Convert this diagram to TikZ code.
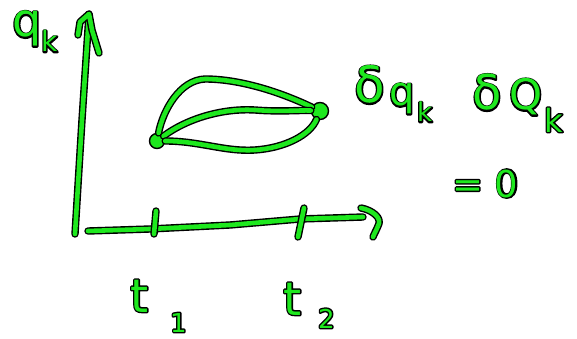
\documentclass[tikz,border=0pt]{standalone}
\usepackage{fontspec}
\setmainfont{DejaVu Sans}
\definecolor{pen}{RGB}{30,232,30}
\newcommand\hw[1]{\rlap{\special{pdf:literal 1 Tr 0 G 2.8 w 1 j}#1\special{pdf:literal 0 Tr}}#1}
\tikzset{
  stroke/.style={draw=black, double=pen, double distance=4.6pt, line width=1.4pt, line cap=round, line join=round},
  dot/.style={circle, fill=pen, draw=black, line width=1.4pt, inner sep=0pt},
  lab/.style={anchor=base west, inner sep=0pt, text=pen},
}
\begin{document}
\begin{tikzpicture}[x=1pt,y=-1pt]
\useasboundingbox (0,0) rectangle (577,339);
% axes
\coordinate (O) at (75,234);
\coordinate (Ytop) at (89,14);
\coordinate (Yl) at (78,35);
\coordinate (Yr) at (99,53);
\draw[stroke] (O) -- (82,120) -- (Ytop);
\draw[stroke] (Yl) -- (80,22) -- (Ytop) -- (92,30) -- (Yr);
\coordinate (Xs) at (88,231);
\coordinate (Xe) at (363,217);
\draw[stroke] (Xs) -- (150,229) -- (230,225) -- (300,219) -- (Xe);
\coordinate (Xh1) at (361,208);
\coordinate (Xh2) at (373,237);
\draw[stroke] (Xh1) .. controls (372,210) and (383,218) .. (378,226) .. controls (376,231) and (374,234) .. (Xh2);
% ticks
\coordinate (T1a) at (156,211); \coordinate (T1b) at (154,234);
\draw[stroke] (T1a) -- (T1b);
\coordinate (T2a) at (304,208); \coordinate (T2b) at (298,237);
\draw[stroke] (T2a) -- (T2b);
% points and paths
\node[dot, minimum size=15pt] (A) at (157,141) {};
\node[dot, minimum size=17pt] (B) at (320,111) {};
\draw[stroke] (A) .. controls (163,110) and (180,80) .. (205,79) .. controls (240,79) and (280,92) .. (B);
\draw[stroke] (A) .. controls (185,120) and (220,108) .. (255,110) .. controls (280,112) and (300,110) .. (B);
\draw[stroke] (A) .. controls (200,141) and (225,152) .. (255,150) .. controls (285,148) and (310,135) .. (B);
% labels
\node[lab, font=\fontsize{46}{46}\selectfont] (q) at (12,37) {\hw{q}};
\node[lab, font=\fontsize{28}{28}\selectfont] (qk) at (41,52) {\hw{k}};
\node[lab, font=\fontsize{50}{50}\selectfont] (d1) at (354,103) {\hw{δ}};
\node[lab, font=\fontsize{40}{40}\selectfont] (q2) at (389,106) {\hw{q}};
\node[lab, font=\fontsize{26}{26}\selectfont] (k2) at (417,122) {\hw{k}};
\node[lab, font=\fontsize{48}{48}\selectfont] (d2) at (472,110) {\hw{δ}};
\node[lab, font=\fontsize{42}{42}\selectfont] (Q) at (509,110) {\hw{Q}};
\node[lab, font=\fontsize{32}{32}\selectfont] (k3) at (544,132) {\hw{k}};
\node[lab, font=\fontsize{37}{37}\selectfont] (eq) at (452,197) {\hw{= 0}};
\node[lab, font=\fontsize{46}{46}\selectfont] (t1) at (130,312) {\hw{t}};
\node[lab, font=\fontsize{26}{26}\selectfont] (s1) at (170,332) {\hw{1}};
\node[lab, font=\fontsize{46}{46}\selectfont] (t2) at (283,315) {\hw{t}};
\node[lab, font=\fontsize{26}{26}\selectfont] (s2) at (318,328) {\hw{2}};
\end{tikzpicture}
\end{document}
